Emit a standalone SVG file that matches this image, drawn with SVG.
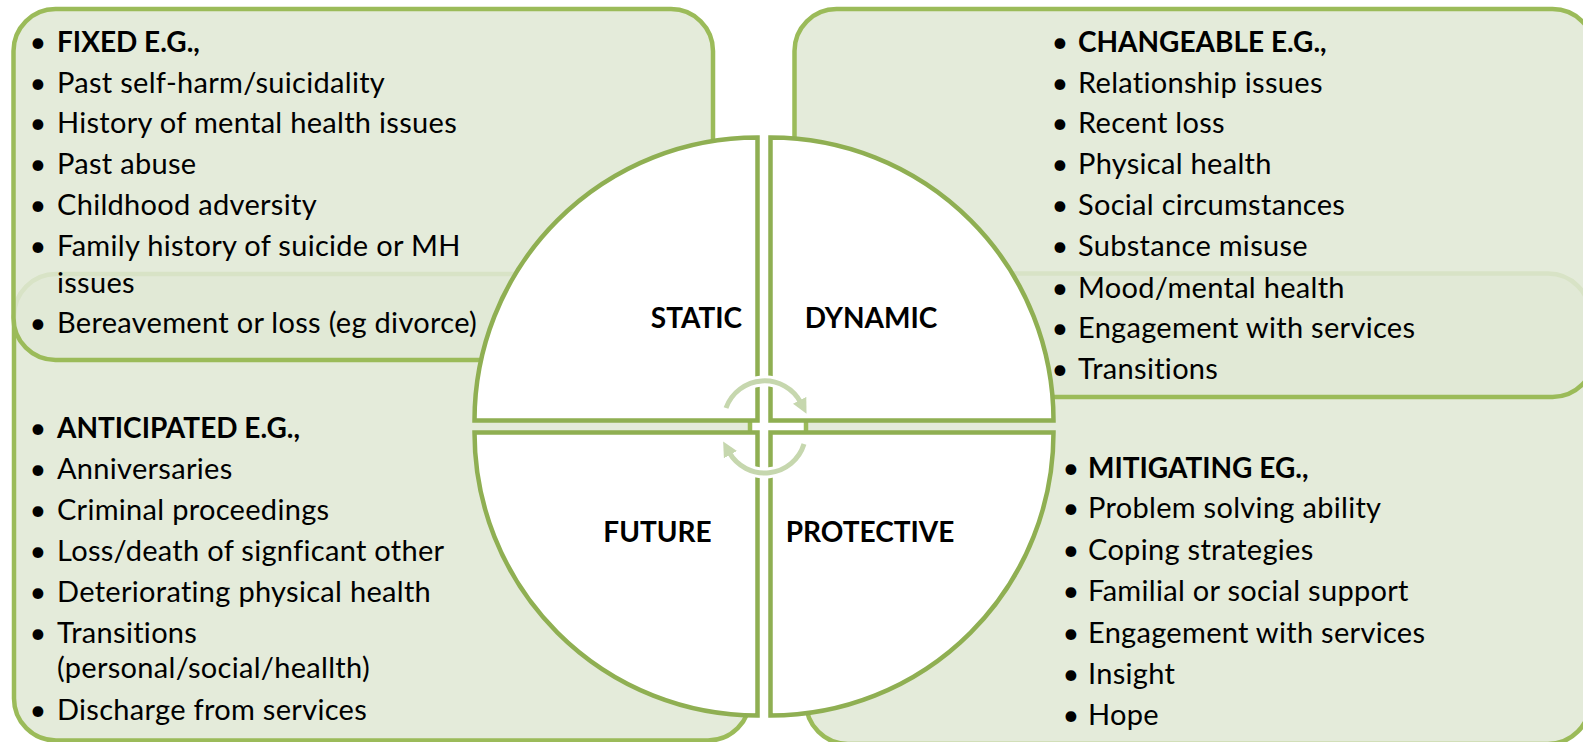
<svg xmlns="http://www.w3.org/2000/svg" width="1583" height="742" viewBox="0 0 1583 742">
  <defs>
    <style>
      .box { fill: #e0e8d5; fill-opacity: 0.88; stroke: #9bbb59; stroke-width: 4.5; }
      .pie { fill: #ffffff; stroke: #8faf52; stroke-width: 4.5; stroke-linejoin: miter; }
      .t { font-family: Lato, "Liberation Sans", sans-serif; font-size: 29px; letter-spacing: 0.3px; fill: #000000; }
      .b { font-weight: 700; font-size: 28px; letter-spacing: 0; }
      .c { text-anchor: middle; letter-spacing: 0; }
      .halo { fill: none; stroke: #ffffff; stroke-width: 11; }
      .arc { fill: none; stroke: #c6d7ae; stroke-width: 5; }
    </style>
    <marker id="tip" viewBox="0 0 10 10" refX="2" refY="5" markerWidth="3" markerHeight="3" orient="auto" markerUnits="strokeWidth">
      <path d="M0,0 L10,5 L0,10 Z" fill="#c6d7ae"/>
    </marker>
  </defs>
  <rect width="1583" height="742" fill="#ffffff"/>

  <!-- lower boxes sit underneath the upper ones -->
  <g id="anticipated">
    <rect class="box" x="14" y="274" width="736" height="466.5" rx="42"/>
    <text class="t c" x="38" y="438">•</text><text class="t b" x="57" y="438">ANTICIPATED E.G.,</text>
    <text class="t c" x="38" y="479">•</text><text class="t" x="57" y="479">Anniversaries</text>
    <text class="t c" x="38" y="520">•</text><text class="t" x="57" y="520">Criminal proceedings</text>
    <text class="t c" x="38" y="561">•</text><text class="t" x="57" y="561">Loss/death of signficant other</text>
    <text class="t c" x="38" y="602">•</text><text class="t" x="57" y="602">Deteriorating physical health</text>
    <text class="t c" x="38" y="643">•</text><text class="t" x="57" y="643">Transitions</text>
    <text class="t" x="57" y="678">(personal/social/heallth)</text>
    <text class="t c" x="38" y="720">•</text><text class="t" x="57" y="720">Discharge from services</text>
  </g>

  <g id="mitigating">
    <rect class="box" x="806" y="273.5" width="784" height="470.5" rx="42"/>
    <text class="t c" x="1071" y="478">•</text><text class="t b" x="1088" y="478">MITIGATING EG.,</text>
    <text class="t c" x="1071" y="518">•</text><text class="t" x="1088" y="518">Problem solving ability</text>
    <text class="t c" x="1071" y="560">•</text><text class="t" x="1088" y="560">Coping strategies</text>
    <text class="t c" x="1071" y="601">•</text><text class="t" x="1088" y="601">Familial or social support</text>
    <text class="t c" x="1071" y="643">•</text><text class="t" x="1088" y="643">Engagement with services</text>
    <text class="t c" x="1071" y="684">•</text><text class="t" x="1088" y="684">Insight</text>
    <text class="t c" x="1071" y="725">•</text><text class="t" x="1088" y="725">Hope</text>
  </g>

  <g id="fixed">
    <rect class="box" x="13.5" y="9" width="699.5" height="351" rx="42"/>
    <text class="t c" x="38" y="52">•</text><text class="t b" x="57" y="52">FIXED E.G.,</text>
    <text class="t c" x="38" y="93">•</text><text class="t" x="57" y="93">Past self-harm/suicidality</text>
    <text class="t c" x="38" y="133">•</text><text class="t" x="57" y="133">History of mental health issues</text>
    <text class="t c" x="38" y="174">•</text><text class="t" x="57" y="174">Past abuse</text>
    <text class="t c" x="38" y="215">•</text><text class="t" x="57" y="215">Childhood adversity</text>
    <text class="t c" x="38" y="256">•</text><text class="t" x="57" y="256">Family history of suicide or MH</text>
    <text class="t" x="57" y="293">issues</text>
    <text class="t c" x="38" y="333">•</text><text class="t" x="57" y="333">Bereavement or loss (eg divorce)</text>
  </g>

  <g id="changeable">
    <rect class="box" x="794.5" y="9" width="800" height="388" rx="42"/>
    <text class="t c" x="1060" y="52">•</text><text class="t b" x="1078" y="52">CHANGEABLE E.G.,</text>
    <text class="t c" x="1060" y="93">•</text><text class="t" x="1078" y="93">Relationship issues</text>
    <text class="t c" x="1060" y="133">•</text><text class="t" x="1078" y="133">Recent loss</text>
    <text class="t c" x="1060" y="174">•</text><text class="t" x="1078" y="174">Physical health</text>
    <text class="t c" x="1060" y="215">•</text><text class="t" x="1078" y="215">Social circumstances</text>
    <text class="t c" x="1060" y="256">•</text><text class="t" x="1078" y="256">Substance misuse</text>
    <text class="t c" x="1060" y="298">•</text><text class="t" x="1078" y="298">Mood/mental health</text>
    <text class="t c" x="1060" y="338">•</text><text class="t" x="1078" y="338">Engagement with services</text>
    <text class="t c" x="1060" y="379">•</text><text class="t" x="1078" y="379">Transitions</text>
  </g>

  <!-- central circle split into four quarters -->
  <g id="static">
    <path class="pie" d="M757.5,420.5 L474.5,420.5 A283,283 0 0 1 757.5,137.5 Z"/>
    <text class="t b c" x="696.5" y="328">STATIC</text>
  </g>
  <g id="dynamic">
    <path class="pie" d="M770.5,420.5 L770.5,137.5 A283,283 0 0 1 1053.5,420.5 Z"/>
    <text class="t b c" x="871" y="328">DYNAMIC</text>
  </g>
  <g id="future">
    <path class="pie" d="M757.5,432.5 L757.5,715.5 A283,283 0 0 1 474.5,432.5 Z"/>
    <text class="t b c" x="657.5" y="542">FUTURE</text>
  </g>
  <g id="protective">
    <path class="pie" d="M770.5,432.5 L1053.5,432.5 A283,283 0 0 1 770.5,715.5 Z"/>
    <text class="t b c" x="870" y="542">PROTECTIVE</text>
  </g>

  <!-- circular arrows in the middle -->
  <g id="connectors">
    <path class="halo" d="M726,408 A41,41 0 0 1 801,403"/>
    <path class="halo" d="M804,444 A41,41 0 0 1 729,452"/>
    <path class="arc" d="M726,408 A41,41 0 0 1 801,403" marker-end="url(#tip)"/>
    <path class="arc" d="M804,444 A41,41 0 0 1 729,452" marker-end="url(#tip)"/>
  </g>
</svg>
